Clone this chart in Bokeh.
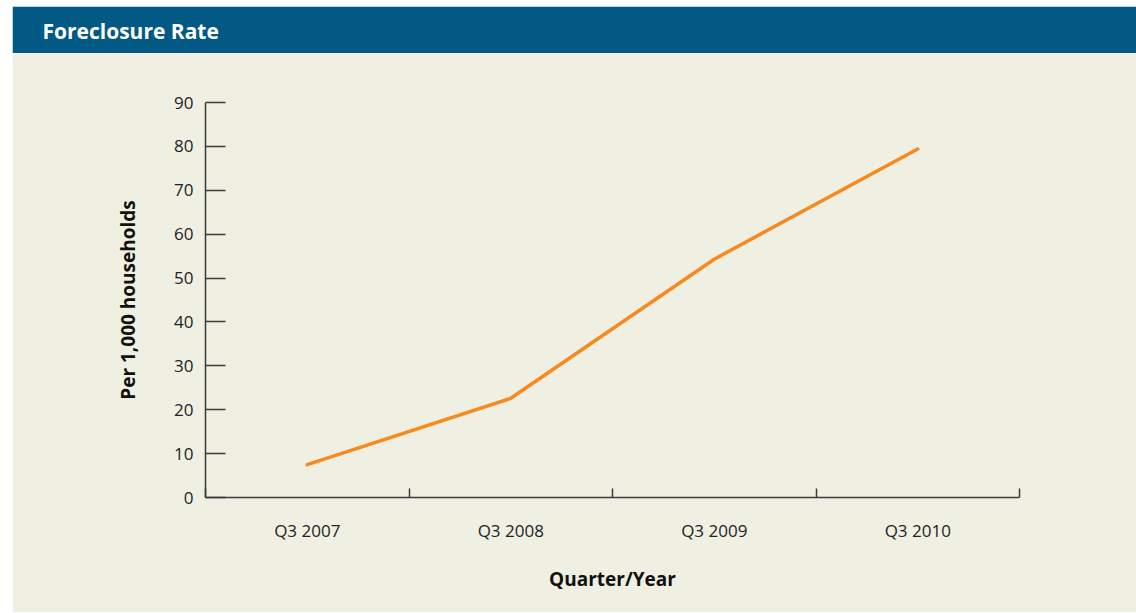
from bokeh.plotting import figure
from bokeh.layouts import column
from bokeh.models import FixedTicker
from bokeh.embed import file_html
from bokeh.resources import INLINE

# ---- data ----
quarters = ["Q3 2007", "Q3 2008", "Q3 2009", "Q3 2010"]
rate = [7.5, 22.6, 54.3, 79.4]
y_ticks = [0, 10, 20, 30, 40, 50, 60, 70, 80, 90]

BLUE = "#025A84"
BEIGE = "#F0F0E2"
ORANGE = "#F7891F"
AXIS = "#3a3a3a"
TEXT = "#222222"
FONT = "Open Sans"

W = 1124
FRAME_LEFT = 193

# ---- header band ----
hdr = figure(width=W, height=47, output_backend="svg", toolbar_location=None,
             min_border_left=FRAME_LEFT, min_border_right=0, min_border_top=38, min_border_bottom=0,
             background_fill_color=BLUE, border_fill_color=BLUE,
             outline_line_color=BLUE, outline_line_width=2)
hdr.axis.visible = False
hdr.grid.visible = False
hdr.title.text = "Foreclosure Rate"
hdr.title.text_color = "white"
hdr.title.text_font = FONT
hdr.title.text_font_style = "bold"
hdr.title.text_font_size = "21px"
hdr.title.align = "left"
hdr.title.offset = 30 - FRAME_LEFT
hdr.title.standoff = 0

# ---- main chart ----
xs = [i + 0.5 for i in range(len(quarters))]

p = figure(width=W, height=559, output_backend="svg", toolbar_location=None,
           x_range=(0, len(quarters)), y_range=(0, 90),
           min_border_left=FRAME_LEFT, min_border_right=117, min_border_top=49, min_border_bottom=115,
           background_fill_color=BEIGE, border_fill_color=BEIGE,
           outline_line_color=BEIGE, outline_line_width=2)
p.grid.visible = False

p.line(xs, rate, line_color=ORANGE, line_width=3.5, line_cap="round", line_join="round")

xt = FixedTicker(ticks=xs, minor_ticks=list(range(len(quarters) + 1)))
p.xaxis.ticker = xt
p.xaxis.major_label_overrides = {x: q for x, q in zip(xs, quarters)}
p.xaxis.major_tick_in = 0
p.xaxis.major_tick_out = 0
p.xaxis.minor_tick_in = 9
p.xaxis.minor_tick_out = 0
p.xaxis.minor_tick_line_color = AXIS
p.xaxis.minor_tick_line_width = 1.5
p.xaxis.major_label_standoff = 21
p.xaxis.axis_label = "Quarter/Year"
p.xaxis.axis_label_standoff = 21

p.yaxis.ticker = FixedTicker(ticks=y_ticks, minor_ticks=[])
p.yaxis.major_tick_in = 20
p.yaxis.major_tick_out = 0
p.yaxis.major_tick_line_color = AXIS
p.yaxis.major_tick_line_width = 1.5
p.yaxis.major_label_standoff = 12
p.yaxis.axis_label = "Per 1,000 households"
p.yaxis.axis_label_standoff = 30

for ax in (p.xaxis, p.yaxis):
    ax.axis_line_color = AXIS
    ax.axis_line_width = 1.5
    ax.major_label_text_font = FONT
    ax.major_label_text_font_size = "17px"
    ax.major_label_text_color = TEXT
    ax.axis_label_text_font = FONT
    ax.axis_label_text_font_size = "19px"
    ax.axis_label_text_font_style = "bold"
    ax.axis_label_text_color = "#111111"

layout = column(hdr, p, spacing=0, margin=(6, 0, 0, 12))
open("out.html", "w").write(file_html(layout, INLINE))
